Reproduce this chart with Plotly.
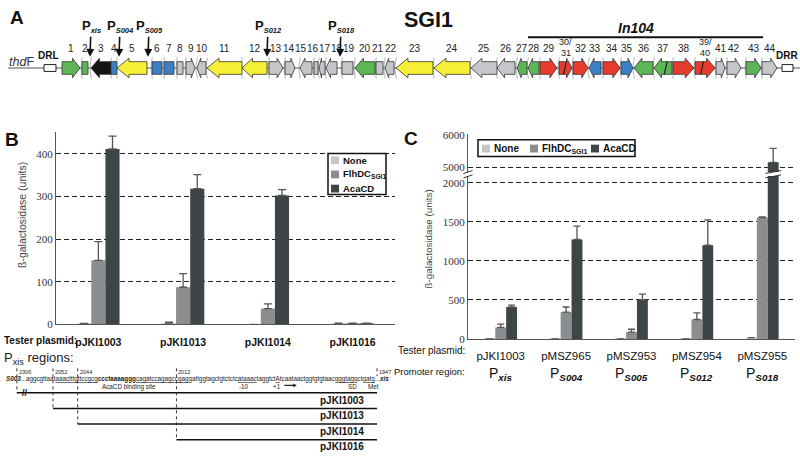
import plotly.graph_objects as go

# ---------------- DATA ----------------
# Panel A : SGI1 gene map (positions in map units along the island)
gene_labels = ["1", "2", "3", "4", "5", "6", "7", "8", "9", "10", "11", "12", "13", "14",
               "15", "16", "17", "18", "19", "20", "21", "22", "23", "24", "25", "26", "27",
               "28", "29", "30/<br>31", "32", "33", "34", "35", "36", "37", "38", "39/<br>40",
               "41", "42", "43", "44"]
gene_start = [62, 82, 91, 111, 117, 152, 164, 177, 186, 197, 207, 242, 269, 285, 300, 314,
              319, 326, 342, 355, 376, 385, 396, 434, 471, 497, 517, 528, 540, 559, 573, 589,
              603, 621, 634, 654, 673, 695, 716, 727, 746, 762]
gene_end = [80, 88, 111, 117, 147, 162, 174, 183, 195, 206, 242, 267, 283, 295, 312, 318,
            325, 337, 353, 375, 383, 394, 433, 470, 497, 515, 527, 539, 557, 572, 588, 601,
            620, 633, 653, 672, 694, 715, 725, 741, 761, 777]
gene_dir = [1, 0, -1, 0, -1, 0, 0, 0, 1, -1, -1, -1, 1, 1, -1, 0, -1, -1, 0, -1, 0, -1, -1,
            -1, -1, -1, -1, -1, 1, 1, 1, -1, 1, 1, -1, -1, 1, 1, 1, 1, 1, 1]
gene_class = list("ggkbybbnnnyynnnnnnngnnyynnggrrrbrbggrrnngn")
split_genes = ["30/<br>31", "37", "39/<br>40"]
split_frac = [0.45, 0.65, 0.35]
promoter_names = ["xis", "S004", "S005", "S012", "S018"]
promoter_pos = [90, 119, 148, 267, 340]
in104_span = [528, 763]
backbone_span = [8, 800]
drl_span = [44, 56]
drr_span = [782, 793]

# Panel B
series_names = ["None", "FlhDC<sub>SGI1</sub>", "AcaCD"]
b_plasmids = ["pJKI1003", "pJKI1013", "pJKI1014", "pJKI1016"]
b_none = [2, 3, 0, 2]
b_none_err = [0, 2, 0, 1]
b_flh = [150, 87, 37, 2]
b_flh_err = [44, 32, 11, 1]
b_aca = [411, 318, 302, 2]
b_aca_err = [30, 33, 14, 1]

# Panel C
c_plasmids = ["pJKI1003", "pMSZ965", "pMSZ953", "pMSZ954", "pMSZ955"]
c_promoters = ["xis", "S004", "S005", "S012", "S018"]
c_none = [3, 3, 3, 3, 18]
c_none_err = [0, 0, 0, 0, 0]
c_flh = [148, 345, 88, 250, 1555]
c_flh_err = [42, 65, 37, 85, 8]
c_aca = [410, 1275, 500, 1200, 5150]
c_aca_err = [25, 170, 75, 325, 430]

# Pxis region constructs (bp coordinates)
construct_names = ["pJKI1003", "pJKI1013", "pJKI1014", "pJKI1016"]
construct_start = [2306, 2052, 2044, 2012]
construct_end = 1947
seq_features = ["AcaCD binding site", "-10", "+1", "SD", "Met"]
seq_feature_pos = [2027.5, 1990, 1979.5, 1955, 1948]

# ---------------- STYLE ----------------
W, H = 800, 472
SANS = "Liberation Sans, Arial"
SERIF = "Liberation Serif, Times New Roman"
gene_colors = {"g": "#5db556", "y": "#f5ef36", "k": "#151515", "b": "#3b7fc7",
               "n": "#c4c6c9", "r": "#e73b2d"}
bar_colors = ["#c6c6c6", "#8b8d8f", "#3e4549"]
GRID = dict(showgrid=True, gridcolor="#222222", griddash="5px,3px", gridwidth=1)


def py(y):
    return 1 - y / H


fig = go.Figure()
ann = []
shapes = []


def txt(x, y, text, size, xanchor="center", yanchor="middle", font=SANS, color="#111111",
        xref="x4", yref="y4", angle=0):
    ann.append(dict(x=x, y=y, xref=xref, yref=yref, text=text, showarrow=False,
                    xanchor=xanchor, yanchor=yanchor, textangle=angle,
                    font=dict(family=font, size=size, color=color)))


# ---------------- PANEL A ----------------
MAP_Y = 64.5
fig.add_trace(go.Scatter(x=backbone_span, y=[MAP_Y, MAP_Y], mode="lines",
                         line=dict(color="#555555", width=1.2), xaxis="x4", yaxis="y4",
                         showlegend=False, hoverinfo="skip"))

# faint bracket marks at gene junctions
BX, BY = [], []
for s in gene_start[1:]:
    BX += [s + 0.3, s - 1.2, s + 0.3, None]
    BY += [53.5, MAP_Y, 75.5, None]
fig.add_trace(go.Scatter(x=BX, y=BY, mode="lines", line=dict(color="#9a9a9a", width=0.7),
                         xaxis="x4", yaxis="y4", showlegend=False, hoverinfo="skip"))


def gene_poly(s, e, d):
    L = e - s
    hb, hh = 6.5, 10.0
    head = min(12.0, 0.42 * L)
    if d > 0:
        xs = [s, e - head, e - head, e, e - head, e - head, s, s]
    elif d < 0:
        xs = [e, s + head, s + head, s, s + head, s + head, e, e]
    else:
        return ([s, e, e, s, s], [MAP_Y - hb, MAP_Y - hb, MAP_Y + hb, MAP_Y + hb, MAP_Y - hb])
    ys = [MAP_Y - hb, MAP_Y - hb, MAP_Y - hh, MAP_Y, MAP_Y + hh, MAP_Y + hb, MAP_Y + hb, MAP_Y - hb]
    return xs, ys


for cls, col in gene_colors.items():
    X, Y = [], []
    for s, e, d, c in zip(gene_start, gene_end, gene_dir, gene_class):
        if c != cls:
            continue
        xs, ys = gene_poly(s, e, d)
        X += xs + [None]
        Y += ys + [None]
    fig.add_trace(go.Scatter(x=X, y=Y, mode="lines", fill="toself", fillcolor=col,
                             line=dict(color="#333333", width=0.8), xaxis="x4", yaxis="y4",
                             showlegend=False, hoverinfo="skip"))

# split genes slash marks
SX, SY = [], []
for lab, fr in zip(split_genes, split_frac):
    i = gene_labels.index(lab)
    xm = gene_start[i] + fr * (gene_end[i] - gene_start[i])
    SX += [xm - 1.5, xm + 1.5, None]
    SY += [MAP_Y + 6.5, MAP_Y - 6.5, None]
fig.add_trace(go.Scatter(x=SX, y=SY, mode="lines", line=dict(color="#222222", width=1.2),
                         xaxis="x4", yaxis="y4", showlegend=False, hoverinfo="skip"))

# DRL / DRR boxes
for span in (drl_span, drr_span):
    fig.add_trace(go.Scatter(x=[span[0], span[1], span[1], span[0], span[0]],
                             y=[MAP_Y - 3.5, MAP_Y - 3.5, MAP_Y + 3.5, MAP_Y + 3.5, MAP_Y - 3.5],
                             mode="lines", fill="toself", fillcolor="white",
                             line=dict(color="#222222", width=1), xaxis="x4", yaxis="y4",
                             showlegend=False, hoverinfo="skip"))

# In104 bar
fig.add_trace(go.Scatter(x=in104_span, y=[33, 33], mode="lines", line=dict(color="#111111", width=2),
                         xaxis="x4", yaxis="y4", showlegend=False, hoverinfo="skip"))

# gene number labels, spread apart where crowded
LAB_FS = 9.5
centers = [(s + e) / 2 for s, e in zip(gene_start, gene_end)]
widths = [0.556 * (LAB_FS + 0.5) * len(l.split("<br>")[0]) for l in gene_labels]
lx = list(centers)
for _ in range(300):
    moved = False
    for i in range(len(lx) - 1):
        need = (widths[i] + widths[i + 1]) / 2 + 1.0
        dd = lx[i + 1] - lx[i]
        if dd < need - 0.01:
            sh = (need - dd) / 2
            lx[i] -= sh
            lx[i + 1] += sh
            moved = True
    if not moved:
        break
for lab, x in zip(gene_labels, lx):
    lines = lab.split("<br>")
    if len(lines) == 1:
        txt(x, 45, lab, LAB_FS + 0.5, color="#222222")
    else:
        txt(x, 37.5, lines[0], 9, color="#222222")
        txt(x, 49.5, lines[1], 9, color="#222222")

for name, xp in zip(promoter_names, promoter_pos):
    ann.append(dict(x=xp, y=53, xref="x4", yref="y4", ax=1, ay=-30, axref="pixel", ayref="pixel",
                    text="<b>P</b><sub><span style='font-size:7.5px'><b><i>%s</i></b></span></sub>" % name,
                    showarrow=True, arrowhead=2, arrowsize=1, arrowwidth=1.6, arrowcolor="#111111",
                    font=dict(family=SANS, size=13, color="#111111")))

txt(8, 13, "<b>A</b>", 19, xanchor="left")
txt(428, 15, "<b>SGI1</b>", 21.5)
txt(636, 24, "<b><i>In104</i></b>", 14)
txt(21, 58, "<i>thd</i>F", 12.5, color="#333333")
txt(48, 52, "<b>DRL</b>", 10)
txt(787, 52, "<b>DRR</b>", 10)

# ---------------- PANEL B ----------------
b_vals = [b_none, b_flh, b_aca]
b_errs = [b_none_err, b_flh_err, b_aca_err]
for name, vals, errs, col in zip(series_names, b_vals, b_errs, bar_colors):
    fig.add_trace(go.Bar(x=b_plasmids, y=vals, name=name, marker_color=col,
                         marker_line_width=0, xaxis="x", yaxis="y", showlegend=False,
                         error_y=dict(type="data", array=errs, arrayminus=[0] * len(errs),
                                      symmetric=False, color="#555555", thickness=1.3, width=4)))

txt(3, 138, "<b>B</b>", 19, xanchor="left")
txt(22, 215, "ß-galactosidase (units)", 10.5, angle=-90, color="#444444")
txt(2, 344, "<b>Tester plasmid:</b>", 10, xanchor="left")


def legend_box(x0, y0, x1, y1, items, fs):
    shapes.append(dict(type="rect", xref="x4", yref="y4", x0=x0, x1=x1, y0=y0, y1=y1,
                       fillcolor="white", line=dict(color="#111111", width=1.5), layer="above"))
    for (sx, sy, name, col) in items:
        shapes.append(dict(type="rect", xref="x4", yref="y4", x0=sx, x1=sx + 8, y0=sy - 4,
                           y1=sy + 4, fillcolor=col, line=dict(width=0), layer="above"))
        txt(sx + 9.5, sy, "<b>%s</b>" % name, fs, xanchor="left")


legend_box(328, 152, 386, 194,
           [(331, 159 + 14.5 * k, n, c) for k, (n, c) in enumerate(zip(series_names, bar_colors))],
           9.5)

# ---------------- PANEL C ----------------
c_vals = [c_none, c_flh, c_aca]
c_errs = [c_none_err, c_flh_err, c_aca_err]
for name, vals, errs, col in zip(series_names, c_vals, c_errs, bar_colors):
    err = dict(type="data", array=errs, arrayminus=[0] * len(errs), symmetric=False,
               color="#555555", thickness=1.3, width=3.5)
    fig.add_trace(go.Bar(x=c_plasmids, y=vals, name=name, marker_color=col,
                         marker_line_width=0, xaxis="x2", yaxis="y2", showlegend=False,
                         error_y=err))
    fig.add_trace(go.Bar(x=c_plasmids, y=vals, name=name, marker_color=col,
                         marker_line_width=0, xaxis="x3", yaxis="y3", showlegend=False,
                         error_y=err))

txt(402, 137, "<b>C</b>", 19, xanchor="left")
txt(428, 240, "ß-galactosidase (units)", 9.8, angle=-90, color="#444444")
txt(467, 354, "Tester plasmid:", 10, xanchor="right")
txt(467, 375, "Promoter region:", 9.5, xanchor="right")
for pl, pr in zip(c_plasmids, c_promoters):
    ann.append(dict(x=pl, y=378, xref="x2", yref="y4", showarrow=False,
                    text="P<sub><b><i>%s</i></b></sub>" % pr,
                    font=dict(family=SANS, size=14, color="#111111")))

legend_box(478, 138, 635, 155,
           [(sx, 147, n, c) for sx, n, c in zip([482, 530, 591], series_names, bar_colors)], 10)

# axis break marks
for dy in (0, 4.5):
    shapes.append(dict(type="line", xref="x4", yref="y4", x0=463.5, x1=472.5,
                       y0=172.5 + dy, y1=169.5 + dy, line=dict(color="#333333", width=1)))
bar_x = len(c_plasmids) - 1 + 1 / 6
shapes.append(dict(type="rect", xref="x2", yref="y4", x0=bar_x - 0.09, x1=bar_x + 0.09,
                   y0=171, y1=175, fillcolor="white", line=dict(width=0)))
for dy in (0, 4.5):
    shapes.append(dict(type="line", xref="x2", yref="y4", x0=bar_x - 0.12, x1=bar_x + 0.12,
                       y0=172.5 + dy, y1=169.5 + dy, line=dict(color="#333333", width=1)))

# ---------------- Pxis regions ----------------
BREAK_BP = 2063.7


def disp(bp):
    return bp if bp <= 2060 else BREAK_BP


txt(2, 362, "P<sub>xis</sub> regions:", 13, xanchor="left", color="#222222")
seq_html = ("<b><i>S003</i></b>...aggcgttaat<u>aaactt</u><u>tgttccgcg</u><b>ccctaaaaggg</b>"
            "<u>cagatccagagccgag</u>gattggtagctgtctctc<u>ataaac</u>taggtct<u>A</u>"
            "tcaataactggtgtgtaacg<u>ggtag</u>gctg<u>atg</u>...<b><i>xis</i></b>")
txt(4, 383, seq_html, 6.3, xanchor="left", color="#222222")

for i, (nm, st) in enumerate(zip(construct_names, construct_start)):
    ry = 397 + 16 * i
    d = disp(st)
    fig.add_trace(go.Scatter(x=[d, construct_end], y=[ry, ry], mode="lines",
                             line=dict(color="#111111", width=1.5), xaxis="x5", yaxis="y4",
                             showlegend=False, hoverinfo="skip"))
    fig.add_trace(go.Scatter(x=[d, d], y=[372, ry], mode="lines",
                             line=dict(color="#333333", width=1, dash="dot"), xaxis="x5",
                             yaxis="y4", showlegend=False, hoverinfo="skip"))
    ann.append(dict(x=d, y=376, xref="x5", yref="y4", text=str(st), showarrow=False,
                    xanchor="left", font=dict(family=SANS, size=5.5, color="#222222")))
    ann.append(dict(x=1950.5, y=ry + 7.5, xref="x5", yref="y4", text="<b>%s</b>" % nm,
                    showarrow=False, xanchor="right",
                    font=dict(family=SANS, size=10, color="#111111")))
fig.add_trace(go.Scatter(x=[construct_end, construct_end], y=[372, 380], mode="lines",
                         line=dict(color="#333333", width=1, dash="dot"), xaxis="x5",
                         yaxis="y4", showlegend=False, hoverinfo="skip"))
ann.append(dict(x=construct_end, y=376, xref="x5", yref="y4", text=str(construct_end),
                showarrow=False, xanchor="left", font=dict(family=SANS, size=5.5, color="#222222")))
txt(25, 397, "<b>//</b>", 9)

for f, pos in zip(seq_features, seq_feature_pos):
    ann.append(dict(x=pos, y=391, xref="x5", yref="y4", text=f, showarrow=False,
                    font=dict(family=SANS, size=6.3, color="#222222")))
# transcription start arrow
ann.append(dict(x=1973, y=389.5, xref="x5", yref="y4", ax=-14, ay=0, axref="pixel",
                ayref="pixel", text="", showarrow=True, arrowhead=2, arrowsize=0.6,
                arrowwidth=1.2, arrowcolor="#222222"))

# ---------------- LAYOUT ----------------
hidden = dict(visible=False, showgrid=False, zeroline=False, fixedrange=True)
fig.update_layout(
    width=W, height=H, margin=dict(l=0, r=0, t=0, b=0),
    paper_bgcolor="white", plot_bgcolor="rgba(0,0,0,0)",
    barmode="group", bargap=0.5, bargroupgap=0, hovermode=False, showlegend=False,
    font=dict(family=SANS, color="#222222"),
    xaxis=dict(domain=[56 / W, 395 / W], anchor="y", type="category", showline=True,
               linecolor="#555555", linewidth=1, ticks="", showgrid=False, fixedrange=True,
               tickfont=dict(family=SANS, size=10.5, color="#111111", weight="bold"),
               ticklabelstandoff=8),
    yaxis=dict(domain=[py(327), py(130.4)], anchor="x", range=[0, 450],
               tickvals=[0, 100, 200, 300, 400], showline=True, linecolor="#555555",
               zeroline=False, ticks="", fixedrange=True,
               tickfont=dict(family=SERIF, size=11, color="#333333"), **GRID),
    xaxis2=dict(domain=[468 / W, 795 / W], anchor="y2", type="category", showline=True,
                linecolor="#555555", linewidth=1, ticks="", showgrid=False, fixedrange=True,
                tickfont=dict(family=SANS, size=11.5, color="#111111"),
                ticklabelstandoff=6),
    yaxis2=dict(domain=[py(342), py(175)], anchor="x2", range=[0, 2087],
                tickvals=[0, 500, 1000, 1500, 2000], showline=True, linecolor="#555555",
                zeroline=False, ticks="", fixedrange=True,
                tickfont=dict(family=SERIF, size=11, color="#333333"), **GRID),
    xaxis3=dict(domain=[468 / W, 795 / W], anchor="y3", type="category", matches="x2",
                showline=False, showticklabels=False, ticks="", showgrid=False,
                fixedrange=True),
    yaxis3=dict(domain=[py(171), py(132)], anchor="x3", range=[4848, 6030],
                tickvals=[5000, 6000], showline=True, linecolor="#555555",
                zeroline=False, ticks="", fixedrange=True,
                tickfont=dict(family=SERIF, size=11, color="#333333"), **GRID),
    xaxis4=dict(domain=[0, 1], anchor="y4", range=[0, W], **hidden),
    yaxis4=dict(domain=[0, 1], anchor="x4", range=[H, 0], **hidden),
    xaxis5=dict(domain=[0, 0.5], anchor="y4", range=[2069.17, 1939.56], **hidden),
    annotations=ann, shapes=shapes,
)

fig.write_html("out.html", config={"displayModeBar": False},
               post_script="document.body.style.margin='0px';")
